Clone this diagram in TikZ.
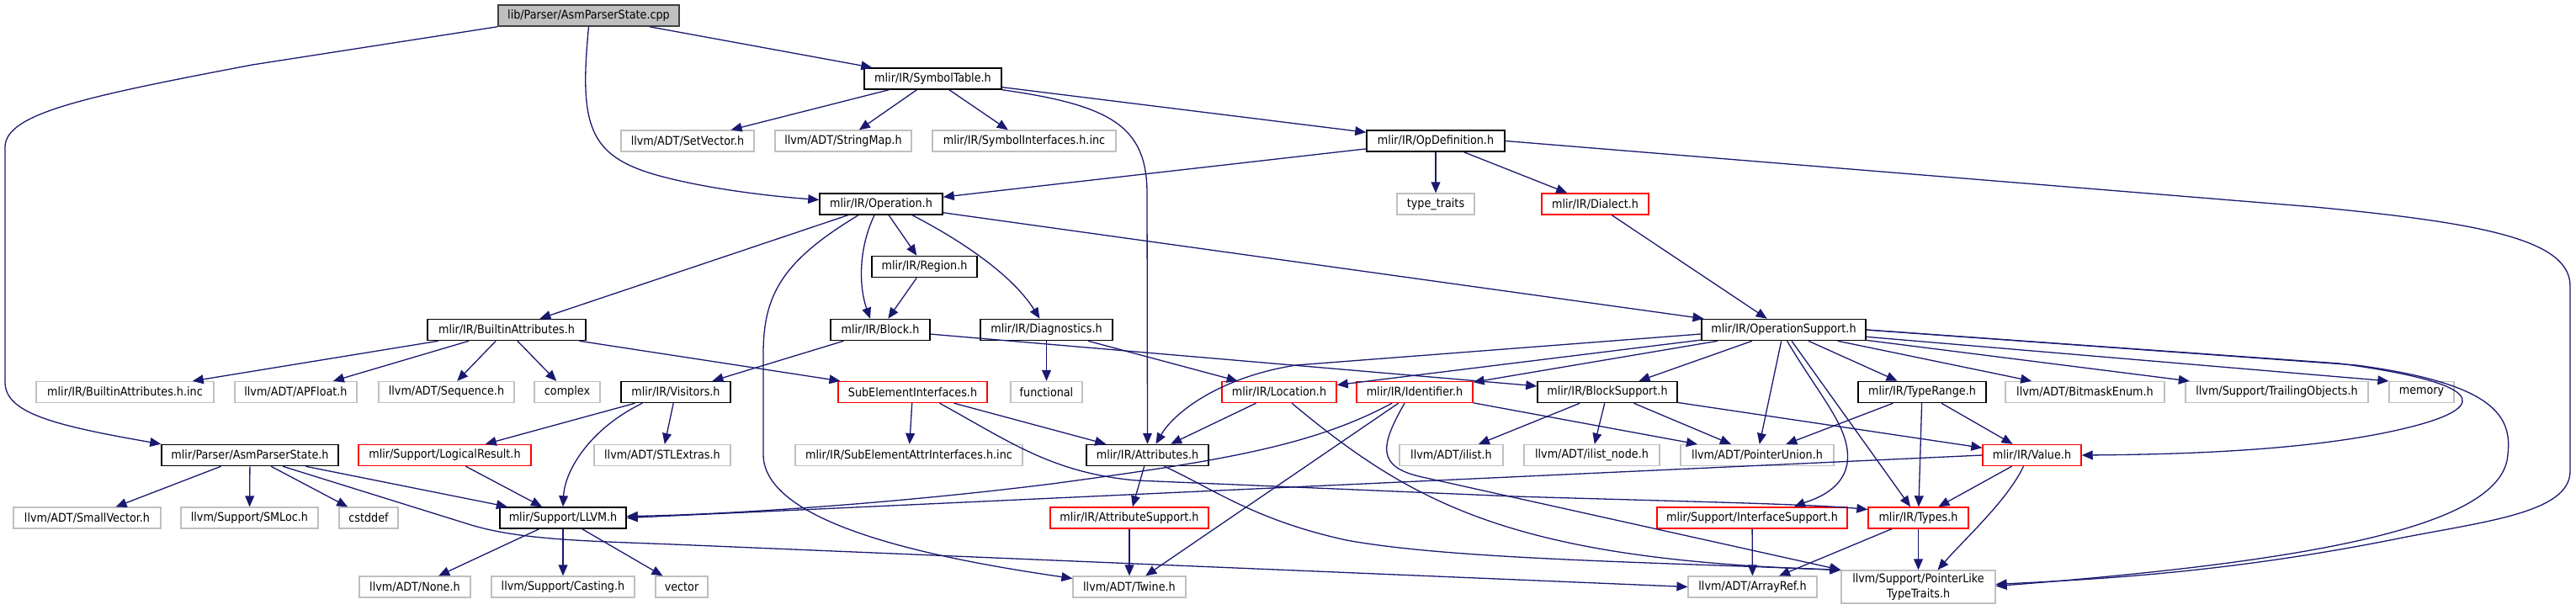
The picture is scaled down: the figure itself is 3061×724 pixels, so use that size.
\documentclass[tikz,border=0pt]{standalone}
\usepackage{fontspec}
\setmainfont{DejaVu Sans Condensed}
\usetikzlibrary{arrows.meta, calc}
\definecolor{edgeblue}{HTML}{191970}
\definecolor{boxgray}{HTML}{BFBFBF}
\definecolor{rootborder}{HTML}{404040}
\definecolor{truncred}{HTML}{FF0000}

\begin{document}
\begin{tikzpicture}[
    x=0.5pt, y=-0.5pt,
    filebox/.style={
        rectangle, draw=black, fill=white, line width=0.75pt,
        minimum height=12.5pt, inner sep=0pt,
        font=\fontsize{7.1}{8.6}\selectfont, text=black, align=center
    },
    extbox/.style={filebox, draw=boxgray, line width=0.6pt},
    redbox/.style={filebox, draw=truncred, line width=0.7pt},
    mainbox/.style={filebox, fill=boxgray, draw=rootborder},
    wd/.style={minimum width=#1*0.5pt},
    arr/.style={-{Triangle[length=6.5pt,width=5.4pt]}, draw=edgeblue,
                line width=0.65pt}
]
\useasboundingbox (0,0) rectangle (3061,724);

% --- Top rows ---
\node[mainbox, wd=215] (root) at (699.5,18.5) {lib/Parser/AsmParserState.cpp};
\node[filebox, wd=163] (symtab) at (1108.5,93.5) {mlir/IR/SymbolTable.h};
\node[extbox, wd=158] (setvec) at (817,167.5) {llvm/ADT/SetVector.h};
\node[extbox, wd=162] (strmap) at (1002,167.5) {llvm/ADT/StringMap.h};
\node[extbox, wd=218] (symif) at (1217,167.5) {mlir/IR/SymbolInterfaces.h.inc};
\node[filebox, wd=164] (opdef) at (1706,167.5) {mlir/IR/OpDefinition.h};
\node[filebox, wd=146] (oper) at (1047,242.5) {mlir/IR/Operation.h};
\node[extbox, wd=92] (ttraits) at (1706,242.5) {type\_traits};
\node[redbox, wd=127] (dialect) at (1895.5,242.5) {mlir/IR/Dialect.h};
\node[filebox, wd=125] (region) at (1098.5,317) {mlir/IR/Region.h};

% --- Middle rows ---
\node[filebox, wd=188] (battr) at (602,392) {mlir/IR/BuiltinAttributes.h};
\node[filebox, wd=118] (block) at (1046,392) {mlir/IR/Block.h};
\node[filebox, wd=157] (diag) at (1243.5,392) {mlir/IR/Diagnostics.h};
\node[filebox, wd=195] (opsup) at (2119.5,392) {mlir/IR/OperationSupport.h};

\node[extbox, wd=211] (battrinc) at (148.5,466) {mlir/IR/BuiltinAttributes.h.inc};
\node[extbox, wd=145] (apfloat) at (351.5,466) {llvm/ADT/APFloat.h};
\node[extbox, wd=161] (seq) at (530.5,466) {llvm/ADT/Sequence.h};
\node[extbox, wd=78] (complex) at (674,466) {complex};
\node[filebox, wd=130] (visitors) at (803,466) {mlir/IR/Visitors.h};
\node[redbox, wd=177] (subelem) at (1084.5,466) {SubElementInterfaces.h};
\node[extbox, wd=85] (functional) at (1243.5,466) {functional};
\node[redbox, wd=136] (location) at (1520,466) {mlir/IR/Location.h};
\node[redbox, wd=138] (ident) at (1681,466) {mlir/IR/Identifier.h};
\node[filebox, wd=166] (blksup) at (1910,466) {mlir/IR/BlockSupport.h};
\node[filebox, wd=152] (trange) at (2284,466) {mlir/IR/TypeRange.h};
\node[extbox, wd=189] (bitmask) at (2477.5,466) {llvm/ADT/BitmaskEnum.h};
\node[extbox, wd=217] (trailing) at (2705.5,466) {llvm/Support/TrailingObjects.h};
\node[extbox, wd=77] (memory) at (2877.5,466) {memory};

\node[filebox, wd=210] (asmh) at (297,541) {mlir/Parser/AsmParserState.h};
\node[redbox, wd=205] (logres) at (528.5,541) {mlir/Support/LogicalResult.h};
\node[extbox, wd=162] (stlextras) at (787,541) {llvm/ADT/STLExtras.h};
\node[extbox, wd=270] (subattrinc) at (1080,541) {mlir/IR/SubElementAttrInterfaces.h.inc};
\node[filebox, wd=145] (attr) at (1363.5,541) {mlir/IR/Attributes.h};
\node[extbox, wd=123] (ilist) at (1724.5,541) {llvm/ADT/ilist.h};
\node[extbox, wd=161] (ilistnode) at (1891.5,541) {llvm/ADT/ilist\_node.h};
\node[extbox, wd=182] (punion) at (2088,541) {llvm/ADT/PointerUnion.h};
\node[redbox, wd=117] (value) at (2414.5,541) {mlir/IR/Value.h};

% --- Bottom rows ---
\node[extbox, wd=175] (smallvec) at (103.5,615.5) {llvm/ADT/SmallVector.h};
\node[extbox, wd=163] (smloc) at (296.5,615.5) {llvm/Support/SMLoc.h};
\node[extbox, wd=70] (cstddef) at (438,615.5) {cstddef};
\node[filebox, wd=150] (llvm) at (669,615.5) {mlir/Support/LLVM.h};
\node[redbox, wd=188] (attrsup) at (1342,615.5) {mlir/IR/AttributeSupport.h};
\node[redbox, wd=226] (ifsup) at (2082,615.5) {mlir/Support/InterfaceSupport.h};
\node[redbox, wd=119] (types) at (2279.5,615.5) {mlir/IR/Types.h};

\node[extbox, wd=132] (none) at (493,697.5) {llvm/ADT/None.h};
\node[extbox, wd=170] (casting) at (669,697.5) {llvm/Support/Casting.h};
\node[extbox, wd=62] (vector) at (810,697.5) {vector};
\node[extbox, wd=134] (twine) at (1342,697.5) {llvm/ADT/Twine.h};
\node[extbox, wd=153] (arrayref) at (2082.5,697.5) {llvm/ADT/ArrayRef.h};
\node[extbox, wd=183, minimum height=19.5pt] (pltt) at (2279.5,697.5)
      {llvm/Support/PointerLike\\TypeTraits.h};

% --- Arrows ---
\draw[arr] (root) -- (symtab);
\draw[arr] (root.south west) -- (300,77) .. controls (100,115) and (6,135) .. (6,175)
      -- (6,454) .. controls (6,490) and (60,505) .. (asmh.north west);
\draw[arr] (root.south) .. controls (688,150) and (700,185) .. (780,208)
      .. controls (830,222) and (900,232) .. ($(oper.west)+(0,-5)$);

\draw[arr] (symtab) -- (setvec);
\draw[arr] (symtab) -- (strmap);
\draw[arr] (symtab) -- (symif);
\draw[arr] (symtab) -- (opdef);
\draw[arr] (symtab.south east) .. controls (1320,125) and (1363,150) .. (1363,230)
      -- (attr.north);

\draw[arr] (opdef) -- (oper);
\draw[arr] (opdef) -- (ttraits);
\draw[arr] (opdef) -- (dialect);
\draw[arr] (opdef.east) -- (2750,246) .. controls (2950,265) and (3054,285) .. (3054,340)
      -- (3054,560) .. controls (3054,610) and (2950,620) .. (2850,640)
      .. controls (2650,680) and (2500,688) .. ($(pltt.east)+(0,-3)$);

\draw[arr] (dialect) -- (opsup);

\draw[arr] (oper) -- (battr);
\draw[arr] (oper) -- (region);
\draw[arr] (oper) -- (opsup);
\draw[arr] ($(oper.south)+(-8,0)$) .. controls (1018,300) and (1022,345)
      .. ($(block.north)+(-12,0)$);
\draw[arr] ($(oper.south)+(37,0)$) .. controls (1150,290) and (1205,330)
      .. ($(diag.north)+(-8,0)$);
\draw[arr] ($(oper.south)+(-27,0)$) .. controls (930,310) and (907,350) .. (907,420)
      -- (907,540) .. controls (907,625) and (1120,665) .. ($(twine.west)+(0,-10)$);

\draw[arr] (region) -- (block);
\draw[arr] (block) -- (visitors);
\draw[arr] (block) -- (blksup);
\draw[arr] (diag) -- (functional);
\draw[arr] (diag) -- (location);

\draw[arr] ($(opsup.west)+(0,5)$) -- (1540,434) .. controls (1450,448) and (1395,490)
      .. ($(attr.north)+(10,0)$);
\draw[arr] (opsup) -- (location);
\draw[arr] (opsup) -- (ident);
\draw[arr] (opsup) -- (blksup);
\draw[arr] (opsup) -- (punion);
\draw[arr] ($(opsup.south)+(4,0)$) .. controls (2165,475) and (2200,510) .. (2195,550)
      .. controls (2190,585) and (2150,595) .. ($(ifsup.north)+(50,0)$);
\draw[arr] (opsup) -- (types);
\draw[arr] (opsup) -- (trange);
\draw[arr] (opsup) -- (bitmask);
\draw[arr] (opsup) -- (trailing);
\draw[arr] (opsup) -- (memory.north west);
\draw[arr] (opsup.east) -- (2780,432) .. controls (2950,455) and (2960,482) .. (2870,506)
      .. controls (2760,535) and (2600,540) .. (value.east);
\draw[arr] (opsup.east) -- (2800,434) .. controls (2965,456) and (2985,495) .. (2980,540)
      .. controls (2975,620) and (2780,665) .. ($(pltt.east)+(0,-1)$);

\draw[arr] (blksup) -- (ilist);
\draw[arr] (blksup) -- (ilistnode);
\draw[arr] (blksup) -- (punion);
\draw[arr] (blksup) -- (value);

\draw[arr] (trange) -- (punion);
\draw[arr] (trange) -- (types);
\draw[arr] (trange) -- (value);

\draw[arr] (battr) -- (battrinc);
\draw[arr] (battr) -- (apfloat);
\draw[arr] (battr) -- (seq);
\draw[arr] (battr) -- (complex);
\draw[arr] (battr) -- (subelem);

\draw[arr] (visitors) -- (logres);
\draw[arr] (visitors) -- (stlextras);
\draw[arr] ($(visitors.south west)+(26,0)$) .. controls (700,510) and (671,560) .. (llvm.north);

\draw[arr] (subelem) -- (subattrinc);
\draw[arr] (subelem) -- (attr);
\draw[arr] ($(subelem.south)+(32,0)$) .. controls (1200,525) and (1250,562) .. (1350,571)
      -- (1800,590) .. controls (2000,596) and (2150,599) .. ($(types.west)+(0,-10)$);

\draw[arr] (location) -- (attr);
\draw[arr] ($(location.south)+(15,0)$) .. controls (1680,600) and (1800,665) .. (pltt.north west);

\draw[arr] ($(ident.south)+(-27,0)$) .. controls (1560,530) and (1450,548) .. (1250,575)
      .. controls (1050,600) and (850,612) .. ($(llvm.east)+(0,-2)$);
\draw[arr] (ident) -- (twine);
\draw[arr] ($(ident.south)+(-12,0)$) .. controls (1640,530) and (1635,555) .. (1690,567)
      -- (pltt.north west);
\draw[arr] (ident) -- (punion);

\draw[arr] (attr) -- (attrsup);
\draw[arr] ($(attr.south)+(20,0)$) .. controls (1440,580) and (1490,618) .. (1600,642)
      .. controls (1720,664) and (1950,668) .. (pltt.north west);

\draw[arr] (logres) -- (llvm);

\draw[arr] (asmh) -- (smallvec);
\draw[arr] (asmh) -- (smloc);
\draw[arr] (asmh) -- (cstddef);
\draw[arr] (asmh) -- (llvm);
\draw[arr] ($(asmh.south)+(39,0)$) -- (560,624) .. controls (620,642) and (700,643) .. (800,647)
      -- (arrayref.west);

\draw[arr] (llvm) -- (none);
\draw[arr] (llvm) -- (casting);
\draw[arr] (llvm) -- (vector);

\draw[arr] (value) -- (types);
\draw[arr] ($(value.south)+(-10,0)$) .. controls (2385,595) and (2335,640) .. ($(pltt.north)+(23,0)$);
\draw[arr] (value.west) -- (llvm.east);

\draw[arr] (types) -- (arrayref);
\draw[arr] (types) -- (pltt);
\draw[arr] (ifsup) -- (arrayref);
\draw[arr] (attrsup) -- (twine);
\end{tikzpicture}
\end{document}
